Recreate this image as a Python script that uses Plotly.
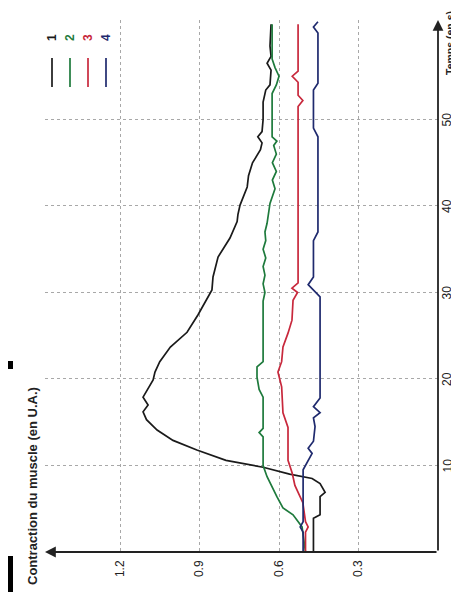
import plotly.graph_objects as go

# ---- data (time in s, contraction in U.A.) ----
t1 = [0, 3.9, 4.3, 6.4, 6.9, 7.9, 8.5, 9.0, 9.8, 10.6, 11.8, 12.9, 14.1, 15.3, 16.2, 17.0, 17.9, 18.9, 19.9,
      20.8, 22.0, 23.7, 25.4, 27.4, 28.5, 30.3, 31.8, 33.0, 34.1, 36.3, 38.2, 39.0, 40.1, 42.2, 43.5, 45.0,
      46.5, 47.3, 48.0, 48.6, 50.0, 52.0, 53.4, 54.0, 55.7, 56.5, 57.3, 58.5, 61.0]
v1 = [0.47, 0.47, 0.445, 0.445, 0.426, 0.445, 0.475, 0.56, 0.66, 0.80, 0.91, 1.00, 1.06, 1.10, 1.113, 1.094,
      1.113, 1.094, 1.075, 1.068, 1.05, 1.01, 0.947, 0.906, 0.885, 0.853, 0.849, 0.84, 0.83, 0.785, 0.758,
      0.755, 0.747, 0.72, 0.715, 0.70, 0.67, 0.664, 0.68, 0.664, 0.66, 0.66, 0.65, 0.634, 0.63, 0.645, 0.63,
      0.634, 0.63]

t2 = [0, 2.9, 4.3, 5.1, 6.4, 8.7, 10, 13.3, 13.8, 14.3, 17.9, 18.8, 20.2, 21.4, 22.0, 29, 30, 31, 32, 33, 34,
      35, 36, 37, 38, 40.3, 42, 43, 44, 45, 46, 47, 47.5, 48, 50, 53, 54, 55, 56, 57, 61]
v2 = [0.50, 0.513, 0.547, 0.585, 0.608, 0.645, 0.66, 0.66, 0.675, 0.66, 0.66, 0.675, 0.683, 0.683, 0.66, 0.66,
      0.653, 0.66, 0.653, 0.66, 0.65, 0.66, 0.65, 0.653, 0.645, 0.634, 0.615, 0.625, 0.61, 0.625, 0.61, 0.62,
      0.608, 0.626, 0.626, 0.626, 0.61, 0.60, 0.615, 0.626, 0.626]

t3 = [0, 2.3, 2.9, 3.5, 5.7, 7.7, 9.1, 10.6, 14.4, 16.1, 19.1, 20.8, 22, 23.7, 25.3, 26.8, 29.1, 30, 30.5,
      31.1, 33, 51.5, 52.2, 52.8, 54.3, 55, 55.6, 61]
v3 = [0.50, 0.50, 0.49, 0.50, 0.51, 0.54, 0.55, 0.566, 0.566, 0.585, 0.59, 0.604, 0.59, 0.585, 0.566, 0.551,
      0.547, 0.53, 0.551, 0.528, 0.528, 0.528, 0.51, 0.528, 0.528, 0.55, 0.528, 0.528]

t4 = [0, 2.3, 2.9, 3.5, 9.5, 10.6, 11.4, 12, 12.8, 14.5, 15.5, 16.1, 16.8, 17.8, 29.5, 30.9, 31.8, 36, 37, 48,
      49, 53.4, 54.2, 60, 60.7, 61.3]
v4 = [0.509, 0.509, 0.52, 0.509, 0.509, 0.49, 0.475, 0.49, 0.47, 0.464, 0.47, 0.445, 0.47, 0.445, 0.445, 0.49,
      0.47, 0.47, 0.453, 0.453, 0.47, 0.47, 0.453, 0.453, 0.47, 0.453]

series_names = ["1", "2", "3", "4"]
series_colors = ["#1a1a1a", "#1e7a3c", "#c8283c", "#1f2a6e"]

time_ticks = [10, 20, 30, 40, 50]
contraction_ticks = [0.3, 0.6, 0.9, 1.2]
contraction_labels = ["0.3", "0.6", "0.9", "1.2"]

X_MAX = 1.483
T_MAX = 61.5

# the page puts the figure at an 8px body offset; compensate
OFF = 8
W, H = 459 - OFF, 592 - OFF
PL, PR, PT, PB = 45, 438, 20, 552   # plot area in page pixels

fig = go.Figure()
for t, v, name, col in zip([t1, t2, t3, t4], [v1, v2, v3, v4], series_names, series_colors):
    fig.add_trace(go.Scatter(x=v, y=t, mode="lines", name=name,
                             line=dict(color=col, width=1.7), showlegend=False))

FONT = "Liberation Sans, Arial, sans-serif"
axis_col = "#222222"
grid_col = "#a8a8a8"

fig.update_layout(
    width=W, height=H,
    margin=dict(l=PL - OFF, r=W - (PR - OFF), t=PT - OFF, b=H - (PB - OFF), pad=0, autoexpand=False),
    plot_bgcolor="white", paper_bgcolor="white",
    font=dict(family=FONT, size=12, color="#222"),
    xaxis=dict(range=[X_MAX, 0], tickvals=contraction_ticks, ticktext=contraction_labels,
               tickangle=-90, showgrid=True, gridcolor=grid_col, griddash="dot", gridwidth=1.2,
               zeroline=False, showline=False, ticks="", ticklabelstandoff=5, automargin=False,
               tickfont=dict(size=12, color="#222")),
    yaxis=dict(range=[0, T_MAX], side="right", tickvals=time_ticks, showticklabels=False,
               showgrid=True, gridcolor=grid_col, griddash="dot", gridwidth=1.2,
               zeroline=False, showline=False, ticks="", automargin=False),
)

def px(xp):
    return (xp - PL) / float(PR - PL)

def py(yp):
    return (PB - yp) / float(PB - PT)

# time tick labels (rotated, right of the axis)
for tv in time_ticks:
    fig.add_annotation(x=px(447), y=tv, xref="paper", yref="y", text=str(tv), textangle=-90,
                       showarrow=False, xanchor="center", yanchor="middle",
                       font=dict(size=12, color="#222"))

# axes with arrows
fig.add_annotation(x=X_MAX, y=0, ax=0, ay=0, xref="x", yref="y", axref="x", ayref="y",
                   showarrow=True, arrowhead=2, arrowsize=1.2, arrowwidth=1.8, arrowcolor=axis_col, text="")
fig.add_annotation(x=0, y=T_MAX, ax=0, ay=0, xref="x", yref="y", axref="x", ayref="y",
                   showarrow=True, arrowhead=2, arrowsize=1.2, arrowwidth=1.8, arrowcolor=axis_col, text="")

# titles
fig.add_annotation(x=px(32), y=py(486), xref="paper", yref="paper", text="<b>Contraction du muscle (en U.A.)</b>",
                   textangle=-90, showarrow=False, xanchor="center", yanchor="middle",
                   font=dict(size=13, color="#222"))
fig.add_annotation(x=px(450), y=py(43), xref="paper", yref="paper", text="<b>Temps (en s)</b>",
                   textangle=-90, showarrow=False, xanchor="center", yanchor="middle",
                   font=dict(size=10.5, color="#222"))

# legend (rotated)
leg_x = [52, 70, 88, 106]
for xp, name, col in zip(leg_x, series_names, series_colors):
    fig.add_shape(type="line", xref="paper", yref="paper", x0=px(xp), x1=px(xp), y0=py(58), y1=py(87),
                  line=dict(color=col, width=1.7))
    fig.add_annotation(x=px(xp), y=py(38), xref="paper", yref="paper", text="<b>%s</b>" % name,
                       textangle=-90, showarrow=False, xanchor="center", yanchor="middle",
                       font=dict(size=12, color=col))

# small black marks at left edge
fig.add_shape(type="rect", xref="paper", yref="paper", x0=px(8), x1=px(13), y0=py(592), y1=py(556),
              fillcolor="black", line=dict(width=0))
fig.add_shape(type="rect", xref="paper", yref="paper", x0=px(8), x1=px(13), y0=py(369), y1=py(361),
              fillcolor="black", line=dict(width=0))

fig.write_html("out.html")
